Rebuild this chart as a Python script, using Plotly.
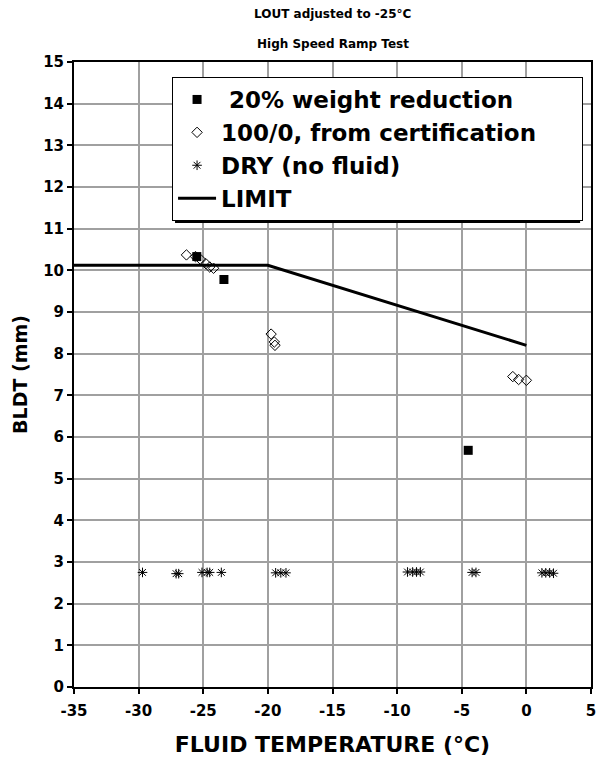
import plotly.graph_objects as go

# Test data: BLDT (mm) versus fluid temperature (°C)
weight_x = [-25.5, -23.4, -4.5]
weight_y = [10.33, 9.78, 5.68]

cert_x = [-26.3, -25.6, -25.2, -24.8, -24.5, -24.2, -19.75, -19.5, -19.45, -1.05, -0.6, 0.0]
cert_y = [10.37, 10.33, 10.26, 10.16, 10.08, 10.05, 8.47, 8.28, 8.2, 7.45, 7.38, 7.36]

dry_x = [-29.7, -27.1, -26.9, -25.1, -24.7, -24.5, -23.6, -19.4, -19.0, -18.6,
         -9.2, -8.8, -8.5, -8.2, -4.2, -3.9, 1.2, 1.5, 1.8, 2.1]
dry_y = [2.75, 2.72, 2.72, 2.75, 2.75, 2.75, 2.75, 2.74, 2.74, 2.74,
         2.76, 2.76, 2.76, 2.76, 2.75, 2.75, 2.74, 2.74, 2.74, 2.73]

limit_x = [-35, -20, 0]
limit_y = [10.12, 10.12, 8.2]

x_ticks = [-35, -30, -25, -20, -15, -10, -5, 0, 5]
y_ticks = list(range(0, 16))

FONT = "DejaVu Sans"
NBSP = "\u00a0"

# plot area in pixels: left 74, right 596, top 62, bottom 687
PL, PR, PT, PB = 74, 596, 62, 687


def px_x(p):
    return (p - PL) / (PR - PL)


def px_y(p):
    return (PB - p) / (PB - PT)


fig = go.Figure()
fig.add_trace(go.Scatter(
    x=weight_x, y=weight_y, mode="markers", name=NBSP + "20% weight reduction",
    marker=dict(symbol="square", size=9, color="black"),
))
fig.add_trace(go.Scatter(
    x=cert_x, y=cert_y, mode="markers", name="100/0, from certification" + NBSP * 5,
    marker=dict(symbol="diamond-open", size=8, color="black", line=dict(width=1, color="black")),
))
fig.add_trace(go.Scatter(
    x=dry_x, y=dry_y, mode="markers", name="DRY (no fluid)",
    marker=dict(symbol="asterisk-open", size=8, color="black", line=dict(width=1, color="black")),
))
fig.add_trace(go.Scatter(
    x=limit_x, y=limit_y, mode="lines", name="LIMIT",
    line=dict(color="black", width=3),
))

axis_common = dict(
    showline=True, linecolor="black", linewidth=2, mirror=True,
    showgrid=True, gridcolor="#a0a0a0", gridwidth=1.5,
    ticks="outside", ticklen=5, tickcolor="black", tickwidth=1.5,
    zeroline=False,
    tickfont=dict(family=FONT, size=15, color="black", weight="bold"),
)

fig.update_xaxes(
    range=[-35, 5], tickvals=x_ticks, ticktext=[str(v) for v in x_ticks],
    ticklabelstandoff=4,
    title=dict(text="FLUID TEMPERATURE (°C)", standoff=18,
               font=dict(family=FONT, size=22, color="black", weight="bold")),
    **axis_common,
)
fig.update_yaxes(
    range=[0, 15], tickvals=y_ticks, ticktext=[str(v) for v in y_ticks],
    title=dict(text="BLDT (mm)", standoff=10,
               font=dict(family=FONT, size=19, color="black", weight="bold")),
    **axis_common,
)

# Drop shadow behind the legend box
fig.add_shape(type="rect", xref="paper", yref="paper",
              x0=px_x(176), x1=px_x(585), y0=px_y(223), y1=px_y(80),
              fillcolor="black", line=dict(width=0), layer="above")

fig.update_layout(
    width=600, height=769,
    margin=dict(l=PL, r=600 - PR, t=PT, b=769 - PB),
    plot_bgcolor="white", paper_bgcolor="white",
    showlegend=True,
    legend=dict(
        x=px_x(173), y=px_y(77), xanchor="left", yanchor="top",
        bgcolor="white", bordercolor="black", borderwidth=1,
        font=dict(family=FONT, size=23, color="black", weight="bold"),
        tracegroupgap=0, itemwidth=38,
    ),
    annotations=[
        dict(text="LOUT adjusted to -25°C", xref="paper", yref="paper",
             x=0.5, y=px_y(14), xanchor="center", yanchor="middle",
             showarrow=False, font=dict(family=FONT, size=12, color="black", weight="bold")),
        dict(text="High Speed Ramp Test", xref="paper", yref="paper",
             x=0.5, y=px_y(44), xanchor="center", yanchor="middle",
             showarrow=False, font=dict(family=FONT, size=12, color="black", weight="bold")),
    ],
)

fig.write_html("out.html")
